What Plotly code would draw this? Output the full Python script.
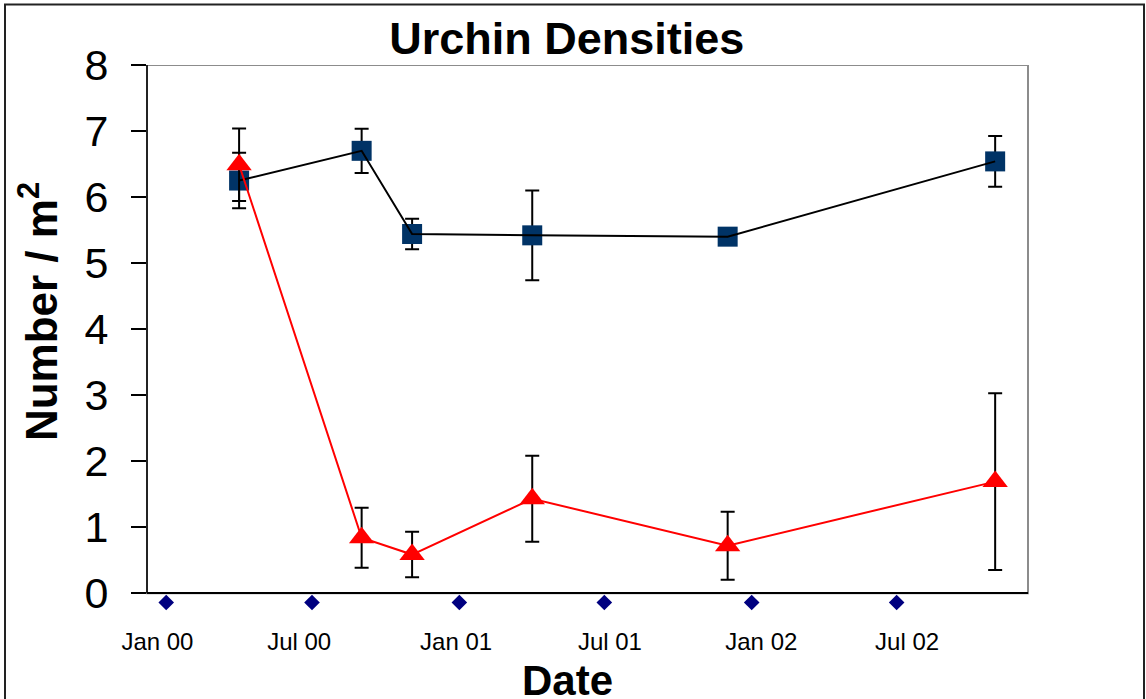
import plotly.graph_objects as go

# ---- data ----
sample_dates = ["2000-04-01", "2000-09-01", "2000-11-03", "2001-04-02", "2001-12-02", "2002-11-01"]
series_a_name = "Control"
series_a = [6.25, 6.70, 5.44, 5.42, 5.40, 6.54]
series_a_err = [0.42, 0.335, 0.23, 0.68, 0.08, 0.385]
series_b_name = "Removal"
series_b = [6.49, 0.84, 0.585, 1.43, 0.72, 1.69]
series_b_err = [0.55, 0.455, 0.345, 0.65, 0.515, 1.34]

marker_dates = ["2000-01-01", "2000-07-01", "2001-01-01", "2001-07-01", "2002-01-01", "2002-07-01"]
marker_vals = [-0.14, -0.14, -0.14, -0.14, -0.14, -0.14]

tick_dates = ["1999-12-21", "2000-06-15", "2000-12-28", "2001-07-08", "2002-01-13", "2002-07-14"]
tick_labels = ["Jan 00", "Jul 00", "Jan 01", "Jul 01", "Jan 02", "Jul 02"]

y_ticks = [0, 1, 2, 3, 4, 5, 6, 7, 8]
y_min, y_max = -0.3, 8

FONT = "Liberation Sans, Arial, sans-serif"

fig = go.Figure()

fig.add_trace(go.Scatter(
    x=sample_dates, y=series_a, mode="markers", name=series_a_name,
    marker=dict(symbol="square", size=20, color="#003366"),
    error_y=dict(type="data", array=series_a_err, visible=True,
                 color="black", thickness=2, width=7),
    showlegend=False))
fig.add_trace(go.Scatter(
    x=sample_dates, y=series_b, mode="markers", name=series_b_name,
    marker=dict(symbol="triangle-up", size=22, color="#FF0000"),
    error_y=dict(type="data", array=series_b_err, visible=True,
                 color="black", thickness=2, width=7),
    showlegend=False))
fig.add_trace(go.Scatter(
    x=sample_dates, y=series_a, mode="lines",
    line=dict(color="black", width=2), showlegend=False))
fig.add_trace(go.Scatter(
    x=sample_dates, y=series_b, mode="lines",
    line=dict(color="#FF0000", width=2), showlegend=False))
fig.add_trace(go.Scatter(
    x=marker_dates, y=marker_vals, mode="markers",
    marker=dict(symbol="diamond", size=12, color="#000080"),
    cliponaxis=False, showlegend=False))

W, H = 1146, 699
L, R = 147, 1028            # px of plot area
T = 64.5
SCALE = 66.125              # px per unit
B = 593.5 + (-y_min) * SCALE
pw, ph = R - L, B - T

def px_x(p):
    return (p - L) / pw

def px_y(p):
    return (B - p) / ph

fig.update_layout(
    width=W, height=H,
    margin=dict(l=L, r=W - R, t=T, b=H - B, pad=0),
    paper_bgcolor="white", plot_bgcolor="white",
    font=dict(family=FONT, color="black"),
    hovermode=False,
    title=dict(text="<b>Urchin Densities</b>", font=dict(size=45, family=FONT, color="black"),
               x=566.7 / W, xanchor="center", y=1 - 38 / H, yanchor="middle"),
    xaxis=dict(type="date", range=["1999-12-08", "2002-12-12"],
               showline=False, showgrid=False, zeroline=False, ticks="",
               tickvals=tick_dates, ticktext=tick_labels,
               tickfont=dict(size=24, family=FONT, color="black"),
               ticklabelstandoff=12),
    yaxis=dict(range=[y_min, y_max], tickvals=y_ticks,
               showline=False, showgrid=False,
               zeroline=True, zerolinecolor="black", zerolinewidth=2,
               ticks="outside", ticklen=15, tickcolor="black", tickwidth=1.5,
               tickfont=dict(size=43, family=FONT, color="black"),
               ticklabelstandoff=14),
    shapes=[
        dict(type="rect", xref="paper", yref="y", x0=0, x1=1, y0=0, y1=y_max,
             line=dict(color="#8c8c8c", width=2), layer="below"),
        dict(type="line", xref="paper", yref="y", x0=0, x1=0, y0=0, y1=y_max,
             line=dict(color="black", width=1.5), layer="above"),
        dict(type="rect", xref="paper", yref="paper",
             x0=px_x(5), x1=px_x(1144), y0=px_y(712), y1=px_y(4),
             line=dict(color="#222222", width=2), layer="below"),
    ],
    annotations=[
        dict(text="<b>Number / m<sup>2</sup></b>", textangle=-90,
             xref="paper", yref="paper", x=px_x(38), y=px_y(312),
             xanchor="center", yanchor="middle", showarrow=False,
             font=dict(size=44, family=FONT, color="black")),
        dict(text="<b>Date</b>", xref="paper", yref="paper",
             x=px_x(567), y=px_y(681), xanchor="center", yanchor="middle",
             showarrow=False, font=dict(size=42, family=FONT, color="black")),
    ],
)

fig.write_html(
    "out.html",
    config={"displayModeBar": False, "staticPlot": True},
    post_script="document.body.style.margin='0';document.body.style.overflow='hidden';",
)
